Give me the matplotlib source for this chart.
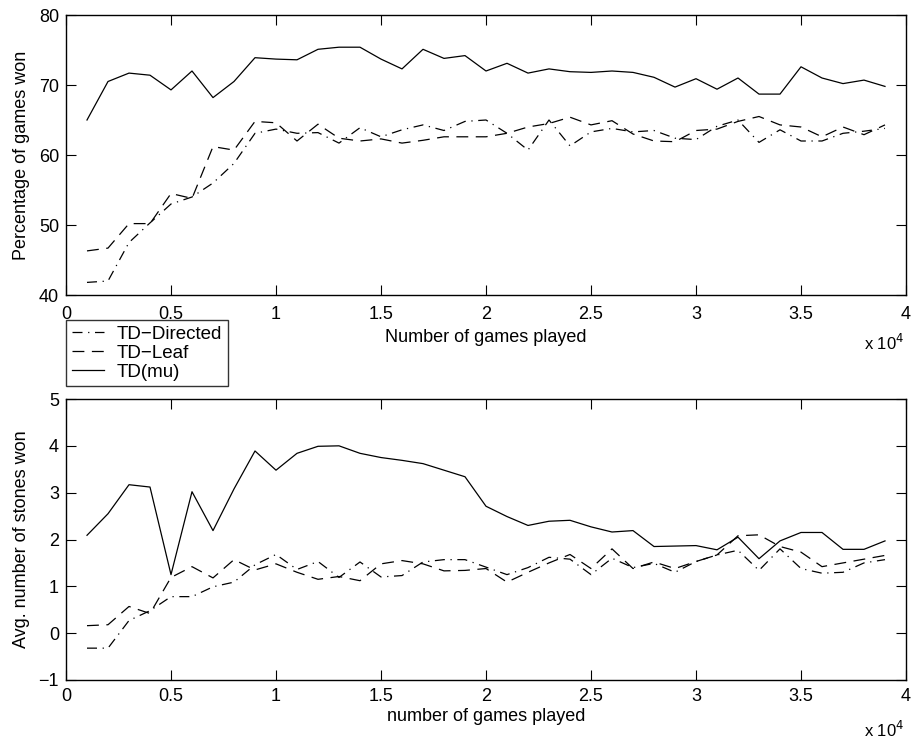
import matplotlib
matplotlib.use("Agg")
import matplotlib.pyplot as plt

plt.rcParams['font.family'] = ['Liberation Sans', 'DejaVu Sans']

games = list(range(1000, 40000, 1000))

pct_directed = [41.8, 42.0, 47.5, 50.3, 53.0, 54.0, 56.0, 58.8, 63.1, 63.7,
                63.1, 63.2, 61.7, 63.9, 62.6, 63.6, 64.3, 63.5, 64.8, 65.0,
                63.1, 60.7, 65.0, 61.3, 63.3, 63.8, 63.3, 63.5, 62.4, 62.2,
                64.1, 65.0, 61.8, 63.6, 62.0, 62.0, 63.1, 63.4, 63.8]
pct_leaf = [46.3, 46.7, 50.2, 50.2, 54.5, 53.8, 61.2, 60.7, 64.8, 64.6,
            62.0, 64.4, 62.4, 62.0, 62.3, 61.7, 62.1, 62.6, 62.6, 62.6,
            63.1, 64.0, 64.5, 65.4, 64.3, 64.9, 63.0, 62.0, 61.9, 63.5,
            63.7, 64.8, 65.5, 64.3, 64.0, 62.6, 64.0, 62.9, 64.3]
pct_mu = [65.0, 70.5, 71.7, 71.4, 69.3, 72.0, 68.2, 70.5, 73.9, 73.7,
          73.6, 75.1, 75.4, 75.4, 73.7, 72.3, 75.1, 73.8, 74.2, 72.0,
          73.1, 71.7, 72.3, 71.9, 71.8, 72.0, 71.8, 71.1, 69.7, 70.9,
          69.4, 71.0, 68.7, 68.7, 72.6, 71.0, 70.2, 70.7, 69.8]

st_directed = [-0.32, -0.32, 0.27, 0.48, 0.78, 0.78, 0.99, 1.09, 1.46, 1.68,
               1.36, 1.53, 1.19, 1.52, 1.20, 1.23, 1.52, 1.57, 1.57, 1.41,
               1.25, 1.40, 1.62, 1.58, 1.25, 1.60, 1.40, 1.49, 1.30, 1.53,
               1.67, 1.77, 1.34, 1.80, 1.38, 1.28, 1.30, 1.50, 1.57]
st_leaf = [0.16, 0.18, 0.57, 0.42, 1.19, 1.42, 1.18, 1.57, 1.35, 1.48,
           1.30, 1.15, 1.21, 1.12, 1.48, 1.55, 1.48, 1.33, 1.34, 1.38,
           1.09, 1.30, 1.50, 1.68, 1.38, 1.80, 1.38, 1.52, 1.38, 1.53,
           1.67, 2.08, 2.10, 1.85, 1.73, 1.42, 1.50, 1.58, 1.66]
st_mu = [2.09, 2.55, 3.17, 3.12, 1.25, 3.02, 2.19, 3.08, 3.89, 3.48,
         3.84, 3.99, 4.00, 3.84, 3.75, 3.69, 3.62, 3.48, 3.34, 2.71,
         2.49, 2.30, 2.39, 2.41, 2.27, 2.16, 2.19, 1.85, 1.86, 1.87,
         1.78, 2.05, 1.59, 1.97, 2.15, 2.15, 1.79, 1.79, 1.97]

xticks = [0, 5000, 10000, 15000, 20000, 25000, 30000, 35000, 40000]
xticklabels = ['0', '0.5', '1', '1.5', '2', '2.5', '3', '3.5', '4']
yticks_top = [40, 50, 60, 70, 80]
yticks_bot = [-1, 0, 1, 2, 3, 4, 5]
series_names = ['TD\u2212Directed', 'TD\u2212Leaf', 'TD(mu)']

W, H = 915, 742
fig = plt.figure(figsize=(W / 100, H / 100), dpi=100)
ax1 = fig.add_axes([66 / W, 1 - 295 / H, 840 / W, 280 / H])
ax2 = fig.add_axes([66 / W, 1 - 680 / H, 840 / W, 281 / H])

lw = 0.9
dashdot = (0, (8, 4.5, 1, 4.5))
dashed = (0, (9.5, 6))
fs = 13

for ax, d, l, m, yt, ylab, xlab, xpad, lpad in [
        (ax1, pct_directed, pct_leaf, pct_mu, yticks_top, 'Percentage of games won', 'Number of games played', 8, 4),
        (ax2, st_directed, st_leaf, st_mu, yticks_bot, 'Avg. number of stones won', 'number of games played', 6, 2)]:
    ax.plot(games, d, color='black', lw=lw, linestyle=dashdot, label=series_names[0])
    ax.plot(games, l, color='black', lw=lw, linestyle=dashed, label=series_names[1])
    ax.plot(games, m, color='black', lw=lw, linestyle='-', label=series_names[2])
    ax.set_xlim(0, 40000)
    ax.set_ylim(yt[0], yt[-1])
    ax.set_xticks(xticks)
    ax.set_xticklabels(xticklabels, fontsize=fs)
    ax.set_yticks(yt)
    ax.set_yticklabels([str(v).replace('-', '\u2212') for v in yt], fontsize=fs)
    ax.tick_params(axis='x', direction='in', length=7, width=0.8, top=True, pad=xpad)
    ax.tick_params(axis='y', direction='in', length=7, width=0.8, right=True, pad=5)
    for s in ax.spines.values():
        s.set_linewidth(1.0)
    ax.set_ylabel(ylab, fontsize=fs, labelpad=6)
    ax.set_xlabel(xlab, fontsize=fs, labelpad=lpad)

fig.text(864 / W, 1 - 350 / H, r'x 10$^{4}$', fontsize=12, ha='left', va='baseline')
fig.text(864 / W, 1 - 737 / H, r'x 10$^{4}$', fontsize=12, ha='left', va='baseline')

h, lab = ax1.get_legend_handles_labels()
leg = fig.legend(h, lab, loc='upper left', bbox_to_anchor=(66 / W, 1 - 320 / H),
                 fontsize=13.5, frameon=True, fancybox=False, edgecolor='black',
                 borderpad=0.3, labelspacing=0.1, handlelength=1.7, handletextpad=0.7,
                 borderaxespad=0)
leg.get_frame().set_linewidth(1.0)

fig.savefig('out.png', dpi=100)
